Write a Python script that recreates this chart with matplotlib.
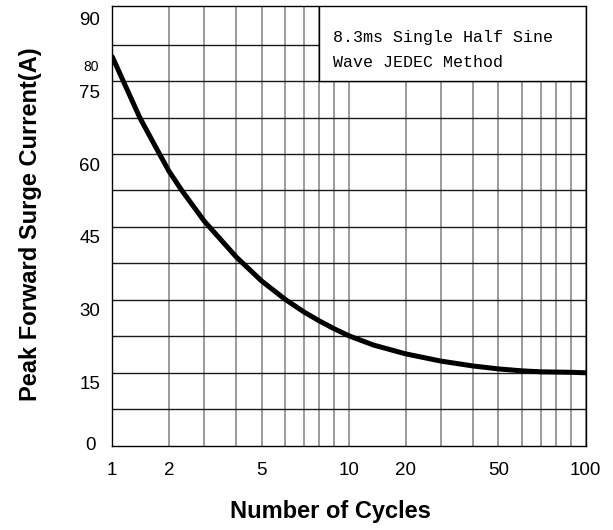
import numpy as np
import matplotlib
matplotlib.use("Agg")
import matplotlib.pyplot as plt
from matplotlib.ticker import FixedLocator, NullFormatter
from matplotlib.patches import Rectangle
import matplotlib.transforms as mtransforms

# ---- data ----
cycles = [1, 1.4, 1.76, 2, 2.32, 3, 4, 5, 6, 7, 8, 9, 10, 13.5,
          20, 30, 40, 50, 60, 70, 80, 90, 100]
current = [80, 67.5, 60.4, 56.5, 52.5, 46.2, 38.8, 33.9, 30.1, 27.5, 25.7, 24.05, 22.6, 20.7,
           18.9, 17.4, 16.4, 15.8, 15.4, 15.2, 15.15, 15.1, 15.0]
x_major = [1, 2, 5, 10, 20, 50, 100]
x_major_labels = ["1", "2", "5", "10", "20", "50", "100"]
x_minor = [3, 4, 6, 7, 8, 9, 30, 40, 60, 70, 80, 90]
y_tick_vals = [0, 15, 30, 45, 60, 75, 90]
y_extra_val = 80
y_grid = [7.5 * i for i in range(1, 12)]
note_lines = ["8.3ms Single Half Sine", "Wave JEDEC Method"]

# ---- chart-paper scale (distorted log decade as printed) ----
_g = np.array([1, 2, 3, 4, 5, 6, 7, 8, 9, 10], float)
_f = np.array([0, .239, .3885, .524, .6305, .7305, .810, .8735, .9375, 1.0])
_lg = np.concatenate([np.log10(_g), np.log10(_g[1:]) + 1])
_fp = np.concatenate([_f, _f[1:] + 1])

def fwd(x):
    x = np.asarray(x, float)
    lx = np.log10(np.maximum(x, 1e-6))
    return np.interp(lx, _lg, _fp, left=-1, right=3)

def inv(p):
    p = np.asarray(p, float)
    return 10 ** np.interp(p, _fp, _lg)

plt.rcParams['font.family'] = ['Liberation Sans', 'DejaVu Sans']

fig = plt.figure(figsize=(6.13, 5.30), dpi=100)
AX_L, AX_R, AX_B, AX_T = 112.3, 585.7, 445.7, 6.0
ax = fig.add_axes([AX_L / 613, 1 - AX_B / 530, (AX_R - AX_L) / 613, (AX_B - AX_T) / 530])
ax.set_xscale('function', functions=(fwd, inv))
ax.set_xlim(1, 100)
ax.set_ylim(0, 90.45)

ax.xaxis.set_major_locator(FixedLocator(x_major))
ax.xaxis.set_minor_locator(FixedLocator(x_minor))
ax.set_xticklabels(x_major_labels)
ax.xaxis.set_minor_formatter(NullFormatter())
ax.tick_params(axis='x', which='both', length=0, pad=12, labelsize=13.5)

ax.set_yticks(y_grid)
ax.set_yticklabels([])
ax.tick_params(axis='y', which='both', length=0)

for v in x_major + x_minor:
    ax.axvline(v, color='#808080', lw=1.1, zorder=1)
for v in y_grid:
    ax.axhline(v, color='#1a1a1a', lw=1.0, zorder=1)

# y labels (printed slightly below their grid lines)
for v in y_tick_vals:
    dy = 0 if v == 0 else -12
    dx = -17 if v == 0 else -12
    tr = ax.get_yaxis_transform() + mtransforms.ScaledTranslation(dx / 100, dy / 100, fig.dpi_scale_trans)
    ax.text(0, v, str(v), transform=tr, ha='right', va='center', fontsize=13.5)
tr = ax.get_yaxis_transform() + mtransforms.ScaledTranslation(-13 / 100, -10 / 100, fig.dpi_scale_trans)
ax.text(0, y_extra_val, str(y_extra_val), transform=tr, ha='right', va='center', fontsize=10)

# note box
ax.add_patch(Rectangle((8, 75), 100 - 8, 95 - 75, facecolor='white', edgecolor='black',
                       lw=1.0, zorder=3, clip_on=True))
for i, line in enumerate(note_lines):
    yb = [41.7, 66.7][i]
    ax.text((332.7 - AX_L) / (AX_R - AX_L), (AX_B - yb) / (AX_B - AX_T), line,
            transform=ax.transAxes, ha='left', va='baseline',
            fontsize=12, family='Liberation Mono', zorder=4)

ax.plot(cycles, current, color='black', lw=3.6, zorder=5, solid_capstyle='round',
        solid_joinstyle='round')

for s in ax.spines.values():
    s.set_color('black')
    s.set_linewidth(1.0)
    s.set_zorder(6)

ax.set_xlabel("Number of Cycles", fontsize=17, fontweight='bold')
ax.xaxis.label.set_va('baseline')
ax.xaxis.set_label_coords((330.5 - AX_L) / (AX_R - AX_L), (AX_B - 518.3) / (AX_B - AX_T))
ax.set_ylabel("Peak Forward Surge Current(A)", fontsize=17, fontweight='bold')
ax.yaxis.label.set_va('baseline')
ax.yaxis.set_label_coords((36.7 - AX_L) / (AX_R - AX_L), (AX_B - 224) / (AX_B - AX_T))

fig.savefig("out.png", dpi=100)
